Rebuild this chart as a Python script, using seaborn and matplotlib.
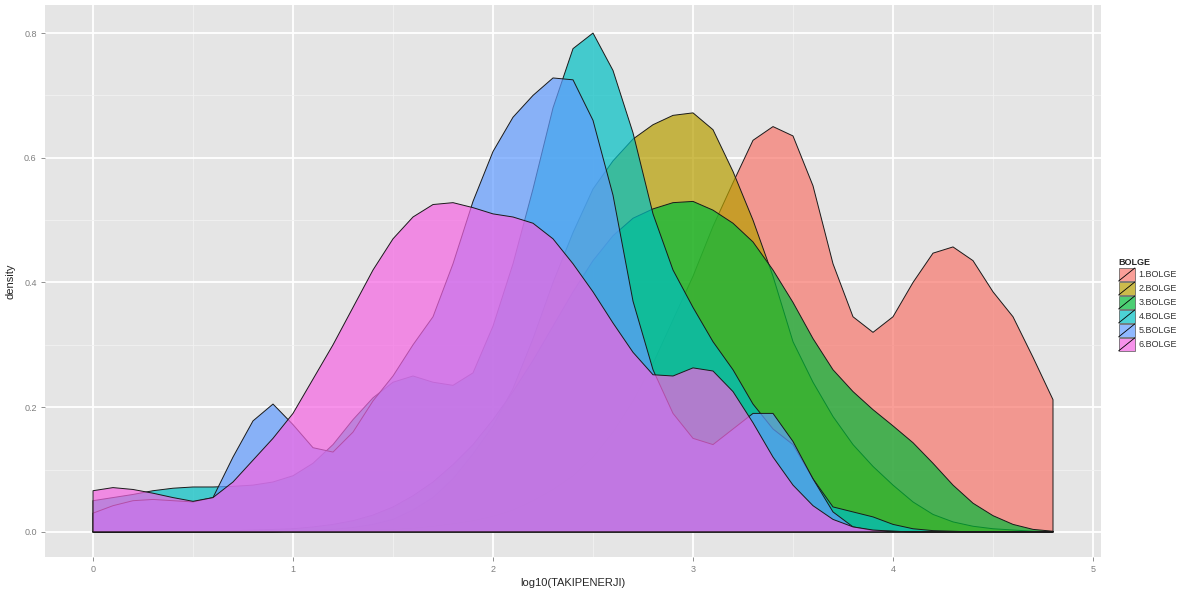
import numpy as np
import pandas as pd
import matplotlib
matplotlib.use("Agg")
import matplotlib.pyplot as plt
import seaborn as sns
from matplotlib.patches import Rectangle
from matplotlib.lines import Line2D
from matplotlib.legend_handler import HandlerPatch
from matplotlib.ticker import MultipleLocator

# =========================
# Data (density, x step 0.1 from 0 to 4.8)
# =========================
x_grid = np.round(np.linspace(0, 4.8, 49), 1)

groups = ["1.BOLGE", "2.BOLGE", "3.BOLGE", "4.BOLGE", "5.BOLGE", "6.BOLGE"]
colors = ["#F8766D", "#B79F00", "#00BA38", "#00BFC4", "#619CFF", "#F564E3"]

bolge1 = [0.000, 0.000, 0.000, 0.000, 0.000, 0.000, 0.000, 0.000, 0.000, 0.000,
          0.001, 0.001, 0.002, 0.002, 0.003, 0.004, 0.006, 0.009, 0.013, 0.018,
          0.025, 0.035, 0.050, 0.068, 0.090, 0.120, 0.160, 0.210, 0.270, 0.340,
          0.410, 0.490, 0.560, 0.628, 0.650, 0.635, 0.555, 0.430, 0.345, 0.320,
          0.345, 0.400, 0.447, 0.457, 0.435, 0.385, 0.345, 0.280, 0.212]
bolge2 = [0.000, 0.000, 0.000, 0.000, 0.000, 0.000, 0.000, 0.000, 0.000, 0.000,
          0.001, 0.002, 0.004, 0.007, 0.012, 0.020, 0.035, 0.055, 0.085, 0.125,
          0.170, 0.230, 0.310, 0.400, 0.480, 0.550, 0.595, 0.630, 0.653, 0.668,
          0.672, 0.645, 0.578, 0.500, 0.410, 0.305, 0.240, 0.185, 0.140, 0.105,
          0.075, 0.048, 0.028, 0.016, 0.009, 0.005, 0.003, 0.001, 0.000]
bolge3 = [0.000, 0.000, 0.000, 0.000, 0.000, 0.001, 0.001, 0.002, 0.003, 0.004,
          0.005, 0.008, 0.012, 0.018, 0.027, 0.040, 0.058, 0.080, 0.108, 0.140,
          0.180, 0.225, 0.275, 0.330, 0.385, 0.435, 0.475, 0.503, 0.518, 0.528,
          0.530, 0.516, 0.495, 0.465, 0.420, 0.368, 0.310, 0.260, 0.225, 0.196,
          0.170, 0.143, 0.110, 0.075, 0.046, 0.026, 0.012, 0.004, 0.001]
bolge4 = [0.050, 0.055, 0.060, 0.066, 0.070, 0.072, 0.072, 0.073, 0.075, 0.080,
          0.090, 0.110, 0.140, 0.180, 0.215, 0.240, 0.250, 0.240, 0.235, 0.255,
          0.330, 0.430, 0.550, 0.680, 0.775, 0.800, 0.740, 0.640, 0.510, 0.420,
          0.360, 0.305, 0.260, 0.205, 0.165, 0.140, 0.085, 0.040, 0.032, 0.024,
          0.012, 0.005, 0.002, 0.001, 0.000, 0.000, 0.000, 0.000, 0.000]
bolge5 = [0.030, 0.042, 0.050, 0.052, 0.050, 0.048, 0.055, 0.120, 0.178, 0.205,
          0.172, 0.135, 0.128, 0.160, 0.210, 0.250, 0.300, 0.345, 0.430, 0.530,
          0.610, 0.665, 0.700, 0.728, 0.725, 0.660, 0.540, 0.370, 0.260, 0.190,
          0.150, 0.140, 0.165, 0.190, 0.190, 0.145, 0.085, 0.032, 0.008, 0.002,
          0.001, 0.000, 0.000, 0.000, 0.000, 0.000, 0.000, 0.000, 0.000]
bolge6 = [0.066, 0.071, 0.068, 0.062, 0.055, 0.049, 0.055, 0.080, 0.115, 0.150,
          0.190, 0.245, 0.300, 0.360, 0.420, 0.470, 0.505, 0.525, 0.528, 0.520,
          0.510, 0.505, 0.495, 0.470, 0.430, 0.385, 0.335, 0.288, 0.252, 0.250,
          0.263, 0.258, 0.225, 0.175, 0.120, 0.075, 0.042, 0.020, 0.008, 0.003,
          0.001, 0.000, 0.000, 0.000, 0.000, 0.000, 0.000, 0.000, 0.000]

series = [bolge1, bolge2, bolge3, bolge4, bolge5, bolge6]

df = pd.concat(
    [pd.DataFrame({"x": x_grid, "density": vals, "BOLGE": g}) for g, vals in zip(groups, series)],
    ignore_index=True,
)

# =========================
# Theme (old ggplot2 grey look)
# =========================
sns.set_theme(style="darkgrid", rc={
    "axes.facecolor": "#E5E5E5",
    "grid.color": "white",
    "axes.edgecolor": "#E5E5E5",
})
plt.rcParams["font.family"] = ["Liberation Sans", "DejaVu Sans"]
palette = sns.color_palette(colors)


class HandlerSlash(HandlerPatch):
    # legend key like ggplot's density key: filled box with a diagonal line
    def create_artists(self, legend, orig_handle, xdescent, ydescent, width, height, fontsize, trans):
        rect = Rectangle((-xdescent, -ydescent), width, height,
                         facecolor=orig_handle.get_facecolor(), edgecolor="#555555",
                         linewidth=0.5, transform=trans)
        line = Line2D([-xdescent, -xdescent + width], [-ydescent, -ydescent + height],
                      color="black", linewidth=0.6, transform=trans)
        return [rect, line]


fig = plt.figure(figsize=(11.88, 5.97), dpi=100)
ax = fig.add_axes([45 / 1188, 1 - 557 / 597, (1101 - 45) / 1188, (557 - 5) / 597])

handles = []
for i, g in enumerate(groups):
    sub = df[df["BOLGE"] == g]
    xs = np.concatenate([[sub["x"].iloc[0]], sub["x"].values, [sub["x"].iloc[-1]]])
    ys = np.concatenate([[0.0], sub["density"].values, [0.0]])
    ax.fill(xs, ys, facecolor=(*palette[i], 0.7), edgecolor="#1a1a1a",
            linewidth=0.7, joinstyle="round", zorder=2 + i)
    handles.append(Rectangle((0, 0), 1, 1, facecolor=(*palette[i], 0.7)))

ax.set_xlim(-0.24, 5.04)
ax.set_ylim(-0.0403, 0.845)
ax.xaxis.set_minor_locator(MultipleLocator(0.5))
ax.yaxis.set_minor_locator(MultipleLocator(0.1))
ax.set_xticks([0, 1, 2, 3, 4, 5])
ax.set_xticklabels(["0", "1", "2", "3", "4", "5"])
ax.set_yticks([0.0, 0.2, 0.4, 0.6, 0.8])
ax.set_yticklabels(["0.0", "0.2", "0.4", "0.6", "0.8"])
ax.grid(which="major", color="white", linewidth=1.3)
ax.grid(which="minor", color="#F2F2F2", linewidth=0.6)
ax.set_axisbelow(True)
for s in ax.spines.values():
    s.set_visible(False)
ax.tick_params(axis="both", which="major", length=3, width=0.6, color="#7F7F7F",
               labelsize=6.5, labelcolor="#7F7F7F", pad=3, bottom=True, left=True)
ax.tick_params(axis="both", which="minor", length=0)

ax.set_xlabel("log10(TAKIPENERJI)", fontsize=8, labelpad=3)
ax.set_ylabel("density", fontsize=8, labelpad=6)

leg = fig.legend(handles, groups, title="BOLGE", loc="center left",
                 bbox_to_anchor=(1115 / 1188, 0.49), frameon=False,
                 fontsize=6.5, title_fontsize=6.5, handlelength=1.8, handleheight=1.85,
                 handletextpad=0.4, labelspacing=0.1, borderaxespad=0,
                 handler_map={Rectangle: HandlerSlash()})
leg.get_title().set_fontweight("bold")
leg._legend_box.align = "left"
for t in leg.get_texts():
    t.set_color("#333333")

fig.savefig("out.png", dpi=100)
